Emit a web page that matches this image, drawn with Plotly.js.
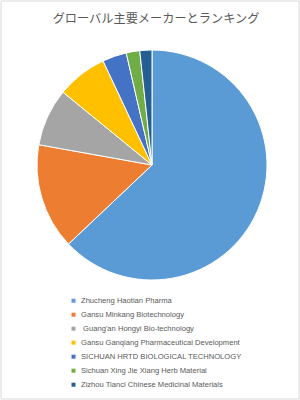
<!DOCTYPE html>
<html>
<head>
<meta charset="utf-8">
<script src="https://cdn.plot.ly/plotly-3.0.1.min.js"></script>
<style>html,body{margin:0;padding:0;background:#fff;}#chart{width:300px;height:400px;}</style>
</head>
<body>
<div id="chart"></div>
<script>
var titleText = "グローバル主要メーカーとランキング";
var categories = [
  "Zhucheng Haotian Pharma",
  "Gansu Minkang Biotechnology",
  " Guang'an Hongyi Bio-technology",
  "Gansu Ganqiang Pharmaceutical Development",
  "SICHUAN HRTD BIOLOGICAL TECHNOLOGY",
  "Sichuan Xing Jie Xiang Herb Material",
  "Zizhou Tianci Chinese Medicinal Materials"
];
var shares = [63.0, 14.9, 8.1, 7.1, 3.4, 1.9, 1.7];
var colors = ["#5B9BD5", "#ED7D31", "#A5A5A5", "#FFC000", "#4472C4", "#70AD47", "#255E91"];

var W = 300, H = 400;
function px(x){ return x / W; }
function py(y){ return 1 - y / H; }

var annotations = [];
var shapes = [{
  type: "rect", xref: "paper", yref: "paper",
  x0: px(1), x1: px(299), y0: py(399), y1: py(1),
  line: {color: "#D9D9D9", width: 1}, fillcolor: "rgba(0,0,0,0)"
}];
var rowTop = 300.7, rowStep = 14;
categories.forEach(function(c, i){
  var yc = rowTop + i * rowStep;
  shapes.push({
    type: "rect", xref: "paper", yref: "paper",
    x0: px(71.5), x1: px(75.5), y0: py(yc + 2), y1: py(yc - 2),
    line: {width: 0}, fillcolor: colors[i]
  });
  annotations.push({
    xref: "paper", yref: "paper", x: px(78.5), y: py(yc),
    xanchor: "left", yanchor: "middle", showarrow: false,
    text: c, font: {family: "Liberation Sans, Arial, sans-serif", size: 7.6, color: "#595959"}
  });
});

var data = [{
  type: "pie",
  labels: categories,
  values: shares,
  sort: false,
  direction: "clockwise",
  rotation: 0,
  textinfo: "none",
  hoverinfo: "label+percent",
  marker: {colors: colors, line: {color: "#FFFFFF", width: 1}},
  domain: {x: [px(37), px(267)], y: [py(280), py(50)]},
  showlegend: false
}];

var layout = {
  width: W, height: H,
  margin: {l: 0, r: 0, t: 0, b: 0},
  paper_bgcolor: "#FFFFFF",
  title: {
    text: titleText,
    font: {family: "Noto Sans CJK JP, sans-serif", size: 12.2, color: "#595959"},
    x: px(156), xanchor: "center", y: py(19), yanchor: "middle", xref: "paper", yref: "paper"
  },
  showlegend: false,
  annotations: annotations,
  shapes: shapes
};

Plotly.newPlot("chart", data, layout, {displayModeBar: false, staticPlot: true});
</script>
</body>
</html>
